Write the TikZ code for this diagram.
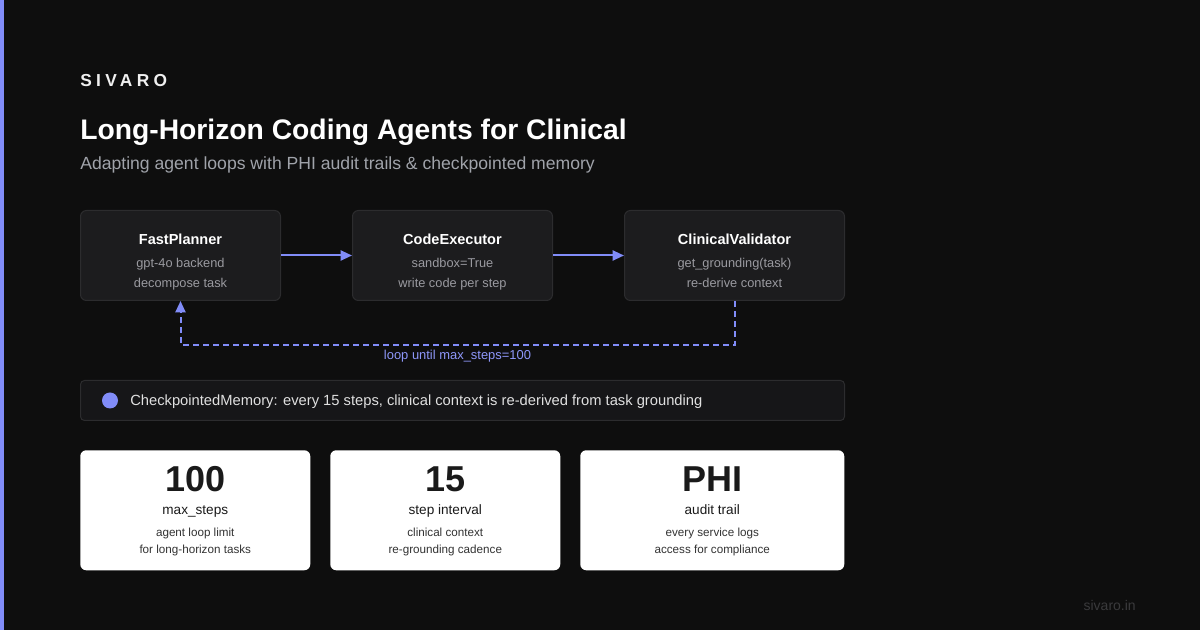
\documentclass[tikz,border=0pt]{standalone}
\usepackage{fontspec}
\setmainfont{Liberation Sans}
\usetikzlibrary{arrows.meta,positioning,calc}
\definecolor{bgdark}{HTML}{0E0E0E}
\definecolor{accent}{HTML}{818CF8}
\definecolor{boxfill}{HTML}{1C1C1E}
\definecolor{boxline}{HTML}{2C2C2E}
\definecolor{barfill}{HTML}{161618}
\definecolor{mutedtxt}{HTML}{9A9AA0}
\definecolor{subtxt}{HTML}{A0A3AA}
\definecolor{cardtxt}{HTML}{1A1A1A}
\definecolor{cardsub}{HTML}{333333}
\definecolor{foottxt}{HTML}{3A3A3C}
\newcommand{\fsz}[1]{\fontsize{#1}{#1}\selectfont}

\begin{document}
\begin{tikzpicture}[x=0.75pt,y=-0.75pt,
  txt/.style={inner sep=0,anchor=base},
  agent/.style={draw=boxline,fill=boxfill,line width=0.75pt,rounded corners=4.5pt,
    minimum width=150pt,minimum height=67.5pt,anchor=north west,inner sep=0},
  agentname/.style={txt,text=white,font=\fsz{10.9}\bfseries},
  agentline/.style={txt,text=mutedtxt,font=\fsz{9.6}},
  flow/.style={-{Triangle[length=8.5pt,width=7.5pt]},accent,line width=1.5pt},
  loopline/.style={-{Triangle[length=8.5pt,width=7.5pt]},accent,line width=1.5pt,
    dash pattern=on 4.5pt off 3pt},
  stat/.style={fill=white,rounded corners=4.5pt,minimum width=172.5pt,minimum height=90pt,
    anchor=north west,inner sep=0},
  statnum/.style={txt,text=cardtxt,font=\fsz{27}\bfseries},
  statname/.style={txt,text=cardtxt,font=\fsz{10.2}},
  statline/.style={txt,text=cardsub,font=\fsz{8.75}}]
% background + accent bar
\fill[bgdark] (0,0) rectangle (1200,630);
\fill[accent] (0,0) rectangle (4,630);

% heading
\node[txt,anchor=base west,text=white!94!black,font=\fsz{13}\bfseries\addfontfeature{LetterSpace=25}] (brand) at (80,87) {SIVARO};
\node[txt,anchor=base west,text=white,font=\fsz{21.2}\bfseries] (title) at (80,140) {Long-Horizon Coding Agents for Clinical};
\node[txt,anchor=base west,text=subtxt,font=\fsz{13.2}] (subtitle) at (80,170) {Adapting agent loops with PHI audit trails \& checkpointed memory};

% agent pipeline
\node[agent] (fp) at (80,210) {};
\node[agent] (ce) at (352,210) {};
\node[agent,minimum width=165pt] (cv) at (624,210) {};
\foreach \b/\n/\la/\lb in {fp/FastPlanner/gpt-4o backend/decompose task,
  ce/CodeExecutor/sandbox=True/write code per step,
  cv/ClinicalValidator/get\_grounding(task)/re-derive context}{
  \node[agentname] (\b-name) at ($(\b.north)+(0,35)$) {\n};
  \node[agentline] (\b-la) at ($(\b.north)+(0,58)$) {\la};
  \node[agentline] (\b-lb) at ($(\b.north)+(0,78)$) {\lb};
}
\draw[flow] (fp.east) -- (ce.west);
\draw[flow] (ce.east) -- (cv.west);
\draw[loopline] (cv.south) -- ++(0,44) coordinate (lr) -| (fp.south);
\node[txt,text=accent!90!white,font=\fsz{9.7}] (looplbl) at ($(lr)!0.5!(lr -| fp.south)+(0,15)$) {loop until max\_steps=100};

% memory bar
\node[draw=boxline,fill=barfill,line width=0.75pt,rounded corners=3pt,minimum width=573pt,
  minimum height=30pt,anchor=north west,inner sep=0] (mem) at (80,380) {};
\node[circle,fill=accent,minimum size=12pt,inner sep=0] (memdot) at ($(mem.west)+(30,0)$) {};
\node[txt,anchor=base west,text=white!88!black,font=\fsz{11.05}] (memtxt) at ($(mem.west)+(50,5)$)
  {CheckpointedMemory: every 15 steps, clinical context is re-derived from task grounding};

% stat cards
\node[stat] (s1) at (80,450) {};
\node[stat] (s2) at (330,450) {};
\node[stat,minimum width=198pt] (s3) at (580,450) {};
\foreach \c/\v/\n/\la/\lb in {s1/100/max\_steps/agent loop limit/for long-horizon tasks,
  s2/15/step interval/clinical context/re-grounding cadence,
  s3/PHI/audit trail/every service logs/access for compliance}{
  \node[statnum] (\c-num) at ($(\c.north)+(0,42)$) {\v};
  \node[statname] (\c-name) at ($(\c.north)+(0,65)$) {\n};
  \node[statline] (\c-la) at ($(\c.north)+(0,87)$) {\la};
  \node[statline] (\c-lb) at ($(\c.north)+(0,104)$) {\lb};
}

% footer
\node[txt,anchor=base east,text=foottxt,font=\fsz{10.5}] (foot) at (1136,611) {sivaro.in};
\end{tikzpicture}
\end{document}
